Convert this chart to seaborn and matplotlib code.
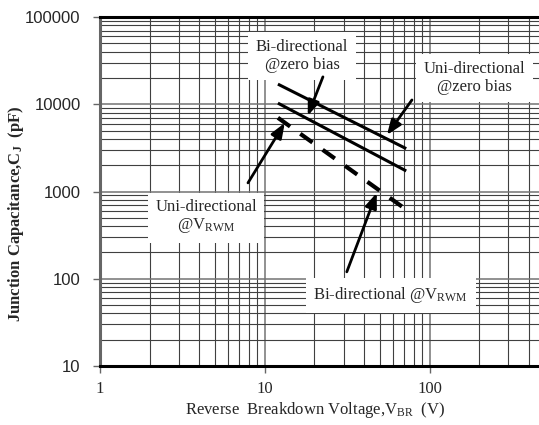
import numpy as np
import pandas as pd
import matplotlib
matplotlib.use("Agg")
import matplotlib.pyplot as plt
import seaborn as sns

# Curve end points (log-log straight lines)
uni_zero_x = [12, 72]
uni_zero_y = [17000, 3100]
bi_zero_x = [12, 72]
bi_zero_y = [10300, 1720]
vrwm_x = [12, 68]
vrwm_y = [7000, 670]

x_ticks = [1, 10, 100]
x_tick_labels = ["1", "10", "100"]
y_ticks = [10, 100, 1000, 10000, 100000]
y_tick_labels = ["10", "100", "1000", "10000", "100000"]

sns.set_style("white")
plt.rcParams["mathtext.default"] = "regular"

serif = "Liberation Serif"
sans = "Liberation Sans"

fig = plt.figure(figsize=(5.39, 4.25), dpi=100)
ax = fig.add_axes([100 / 539, 1 - 366 / 425, 1 - 100 / 539, (366 - 17) / 425])
ax.set_xscale("log")
ax.set_yscale("log")
ax.set_xlim(1, 460)
ax.set_ylim(10, 100000)

# grid
ax.minorticks_on()
ax.grid(which="major", color="0.45", lw=1.1)
ax.grid(which="minor", color="0.25", lw=0.8)
ax.set_axisbelow(True)

# curves
sns.lineplot(x=uni_zero_x, y=uni_zero_y, ax=ax, color="black", lw=2.2,
             solid_capstyle="butt")
sns.lineplot(x=bi_zero_x, y=bi_zero_y, ax=ax, color="black", lw=2.2,
             solid_capstyle="butt")
sns.lineplot(x=vrwm_x, y=vrwm_y, ax=ax, color="black", lw=3.0,
             linestyle=(0, (3.6, 3.0)), dash_capstyle="butt")

# labels with arrows
box = dict(boxstyle="square,pad=0.45", fc="white", ec="none")
arrow = dict(arrowstyle="-|>,head_length=0.9,head_width=0.35", color="black",
             lw=2.0, shrinkA=0, shrinkB=0)
txt_kw = dict(family=serif, fontsize=12, ha="center", va="center",
              linespacing=1.1, bbox=box, zorder=5)

ax.text(16.8, 35700, "Bi-directional\n@zero bias", **txt_kw)
ax.annotate("", xy=(18.2, 7400), xytext=(22.5, 20600), arrowprops=arrow, zorder=6)

ax.text(187, 20000, "Uni-directional\n@zero bias", **txt_kw)
ax.annotate("", xy=(55, 4450), xytext=(78, 11200), arrowprops=arrow, zorder=6)

ax.text(4.4, 512, "Uni-directional\n@V$_{RWM}$", **txt_kw)
ax.annotate("", xy=(13.2, 6100), xytext=(7.9, 1256), arrowprops=arrow, zorder=6)

ax.text(58, 65, "Bi-directional @V$_{RWM}$", **txt_kw)
ax.annotate("", xy=(47.7, 964), xytext=(31.4, 120), arrowprops=arrow, zorder=6)

# ticks
ax.set_xticks(x_ticks)
ax.set_xticklabels(x_tick_labels, family=serif, fontsize=12)
ax.set_yticks(y_ticks)
ax.set_yticklabels(y_tick_labels, family=sans, fontsize=12)
ax.tick_params(which="major", length=5, width=1, color="0.4", direction="out",
               left=True, bottom=True)
ax.tick_params(which="minor", length=0)
ax.tick_params(axis="x", pad=5.5)
ax.tick_params(axis="y", pad=9)

# spines
for s in ["top", "bottom"]:
    ax.spines[s].set_color("black")
    ax.spines[s].set_linewidth(2.2)
ax.spines["left"].set_color("0.4")
ax.spines["left"].set_linewidth(2.2)
ax.spines["right"].set_visible(False)

ax.set_xlabel("Reverse  Breakdown Voltage,V$_{BR}$  (V)", family=serif,
              fontsize=12)
ax.set_ylabel("Junction Capacitance,C$_{J}$  (pF)", family=serif,
              fontsize=12, fontweight="bold")
ax.xaxis.set_label_coords(0.49, -0.097)
ax.yaxis.set_label_coords(-0.169, 0.4355)

fig.savefig("out.png", dpi=100)
